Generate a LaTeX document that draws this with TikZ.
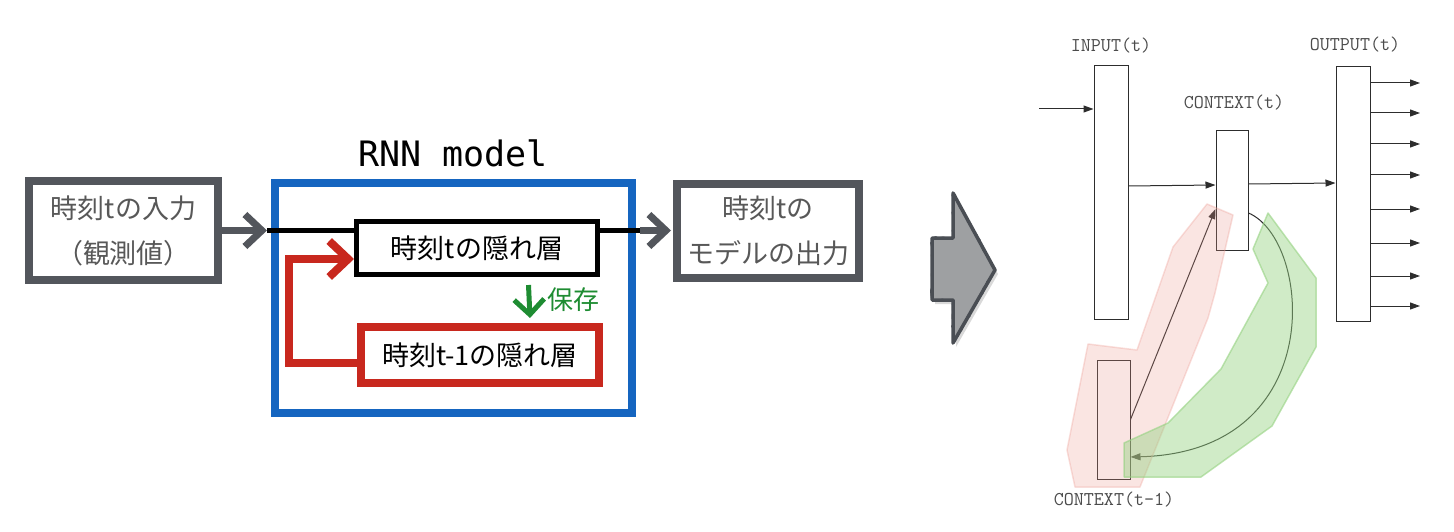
\documentclass[tikz,border=0pt]{standalone}
\usepackage{fontspec}
\newfontfamily\jpfont{Noto Sans CJK JP}
\newfontfamily\monofont{DejaVu Sans Mono}
\usetikzlibrary{arrows.meta,calc,decorations.pathmorphing}
\definecolor{boxgray}{RGB}{83,86,92}
\definecolor{txtgray}{RGB}{88,88,88}
\definecolor{rnnblue}{RGB}{21,101,192}
\definecolor{rnnred}{RGB}{200,40,30}
\definecolor{savegreen}{RGB}{30,140,50}
\definecolor{linegray}{RGB}{45,45,45}
\definecolor{labgray}{RGB}{75,75,75}
\definecolor{arrfill}{RGB}{158,160,162}
\definecolor{arrdraw}{RGB}{74,78,84}
\definecolor{pinkfill}{RGB}{235,150,140}
\definecolor{greenfill}{RGB}{150,210,130}
\begin{document}
\begin{tikzpicture}[x=1pt,y=-1pt,
  jp/.style={font=\jpfont\fontsize{27}{45}\selectfont},
  gbox/.style={draw=boxgray, line width=8pt, fill=white, inner sep=0pt, align=center, jp, text=txtgray},
  hidbox/.style={draw=black, line width=5pt, fill=white, inner sep=0pt, jp, text=black},
  redbox/.style={draw=rnnred, line width=8pt, fill=white, inner sep=0pt, jp, text=black},
  garrow/.style={draw=boxgray, line width=7pt, -{Straight Barb[length=17pt,width=32pt]}},
  rrect/.style={draw=linegray, line width=1pt, fill=white, inner sep=0pt},
  rlabel/.style={font=\ttfamily\fontsize{19.5}{22}\selectfont, text=labgray},
  thinarr/.style={draw=linegray, line width=1pt, -{Triangle[length=10pt,width=7pt]}},
  pinkzone/.style={fill=pinkfill, fill opacity=0.25, draw=pinkfill, draw opacity=0.3, line width=1.5pt, line join=round},
  greenzone/.style={fill=greenfill, fill opacity=0.45, draw=greenfill, draw opacity=0.6, line width=1.5pt, line join=round}
]
\useasboundingbox (0,0) rectangle (1454,532);

% ---------- left: RNN model ----------
\node[gbox, minimum width=189pt, minimum height=99pt] (inp) at (123.5,230.5) {時刻tの入力\\（観測値）};
\node[draw=rnnblue, line width=8pt, minimum width=357pt, minimum height=230pt] (rnn) at (453.5,298) {};
\node[font=\monofont\fontsize{35}{40}\selectfont] (rnnlab) at (453,153) {RNN model};
\node[hidbox, minimum width=241pt, minimum height=53pt] (hid) at (477,248) {時刻tの隠れ層};
\node[redbox, minimum width=238pt, minimum height=56pt] (prev) at (480,355) {時刻t-1の隠れ層};
\node[gbox, minimum width=182pt, minimum height=94pt] (out) at (768,230.5) {時刻tの\\モデルの出力};

\draw[garrow, shorten >=4pt] (inp.east) -- (inp.east -| rnn.west);
\draw[line width=5pt, shorten <=-4pt] (inp.east -| rnn.west) -- (inp.east -| hid.west);
\draw[line width=5pt, shorten >=-4pt] (inp.east -| hid.east) -- (inp.east -| rnn.east);
\draw[garrow, shorten <=4pt, shorten >=2pt] (out.west -| rnn.east) -- (out.west);

\draw[draw=rnnred, line width=8pt, line join=miter, -{Straight Barb[length=19pt,width=36pt]}]
  ($(prev.west)+(0,8)$) -| ($(hid.west)+(-65,11)$) -- ($(hid.west)+(0,11)$);
\draw[draw=savegreen, line width=5pt, -{Straight Barb[length=15pt,width=30pt]}]
  ($(hid.south east)+(-71.5,8)$) -- ($(prev.north east)+(-73,-5)$);
\node[jp, font=\jpfont\fontsize{26}{30}\selectfont, text=savegreen] (save) at (573,300) {保存};

% ---------- middle: big arrow ----------
\fill[black, opacity=0.15] (935,242) -- (956,242) -- (956,197) -- (998,274) -- (956,347) -- (956,304) -- (935,304) -- cycle;
\draw[fill=arrfill, draw=arrdraw, line width=3.5pt, line join=round]
  (932,238) -- (953,238) -- (953,193) -- (995,270) -- (953,343) -- (953,300) -- (932,300) -- cycle;
\draw[draw=arrdraw, line width=1.2pt, decorate, decoration={random steps, segment length=3pt, amplitude=1.3pt}]
  (932,238) -- (953,238) -- (953,193) -- (995,270) -- (953,343) -- (953,300) -- (932,300) -- cycle;

% ---------- right: Elman network ----------
\node[rrect, minimum width=34pt, minimum height=253pt] (inR) at (1111,192.5) {};
\node[rrect, minimum width=32pt, minimum height=119pt] (ctxR) at (1232,190.5) {};
\node[rrect, minimum width=34pt, minimum height=254pt] (outR) at (1353,194) {};
\node[rrect, minimum width=33pt, minimum height=119pt] (prevR) at (1113.5,419.5) {};

\node[rlabel] (inlab) at (1111,46) {INPUT(t)};
\node[rlabel] (ctxlab) at (1234,103) {CONTEXT(t)};
\node[rlabel] (outlab) at (1355,45) {OUTPUT(t)};
\node[rlabel] (prevlab) at (1114,500) {CONTEXT(t-1)};

\coordinate (src) at (1039,109);
\draw[thinarr] (src) -- (src -| inR.west);
\draw[thinarr] ($(inR.east)+(0,-6.5)$) -- ($(ctxR.west)+(0,-5.5)$);
\draw[thinarr] ($(ctxR.east)+(0,-6.5)$) -- ($(outR.west)+(0,-11)$);
\foreach \i/\yy in {1/83,2/113,3/144,4/175,5/209,6/243,7/276,8/306}{
  \coordinate (o\i) at (1420,\yy);
  \draw[thinarr] (o\i -| outR.east) -- (o\i);
}
\draw[thinarr] (prevR.east) -- ($(ctxR.west)+(0,18.5)$);
\draw[thinarr] ($(ctxR.east)+(0,22.5)$) .. controls (1312,240) and (1330,452) .. ($(prevR.east)+(0,37.5)$);

\draw[pinkzone] (1088,344) -- (1137,350) -- (1173,247) -- (1207,204) -- (1233,215) -- (1215,293) -- (1208,318) -- (1140,487) -- (1075,487) -- (1067,450) -- cycle;
\draw[greenzone] (1268,213) -- (1316,278) -- (1316,347) -- (1272,426) -- (1201,477) -- (1124,477) -- (1124,443) -- (1168,423) -- (1221,369) -- (1268,283) -- (1253,249) -- cycle;
\end{tikzpicture}
\end{document}
